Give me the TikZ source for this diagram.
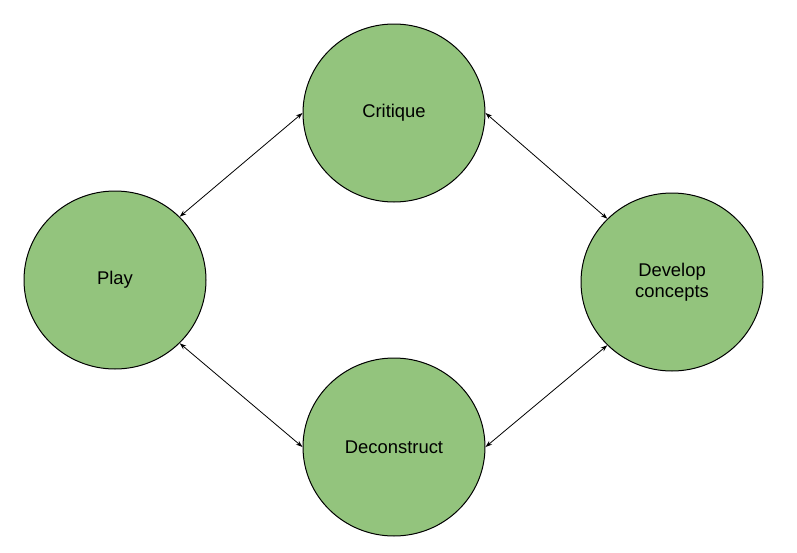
\documentclass[tikz,border=0pt]{standalone}
\usepackage{fontspec}
\setmainfont{Liberation Sans}
\usetikzlibrary{shapes.geometric,arrows.meta}
\definecolor{stagegreen}{HTML}{93C47D}
\begin{document}
\begin{tikzpicture}[x=0.75pt,y=-0.75pt,
  stage/.style={ellipse,draw=black,fill=stagegreen,line width=0.75pt,
    minimum width=136.5pt,minimum height=133.5pt,inner sep=0pt,
    font=\fontsize{13.8}{15.8}\selectfont,align=center},
  link/.style={line width=0.6pt,{Stealth[length=5pt,width=3.5pt]}-{Stealth[length=5pt,width=3.5pt]}}]
\useasboundingbox (0,0) rectangle (797,553);
\node[stage] (crit) at (394,113) {Critique};
\node[stage] (play) at (115,280) {Play};
\node[stage] (dev) at (672,282) {Develop\\concepts};
\node[stage] (dec) at (394,447) {Deconstruct};
\draw[link] (crit.west) -- (play.north east);
\draw[link] (crit.east) -- (dev.north west);
\draw[link] (play.south east) -- (dec.west);
\draw[link] (dec.east) -- (dev.south west);
\end{tikzpicture}
\end{document}
